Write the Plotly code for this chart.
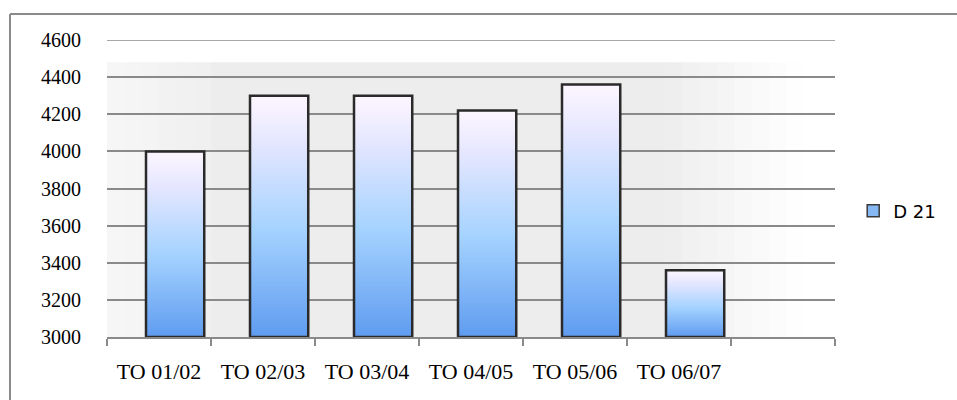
import plotly.graph_objects as go

categories = ["TO 01/02", "TO 02/03", "TO 03/04", "TO 04/05", "TO 05/06", "TO 06/07"]
values = [4000, 4300, 4300, 4220, 4360, 3360]
series_name = "D 21"
y_ticks = [3000, 3200, 3400, 3600, 3800, 4000, 4200, 4400, 4600]
n_slots = 7
base = 3000

bar_w = 0.56
bar_off = -0.125

grad = [[0, "#5f9cf0"], [0.45, "#a6d3ff"], [0.8, "#e4e6ff"], [1, "#fdf6ff"]]
serif = "'Liberation Serif', 'Times New Roman', 'DejaVu Serif', serif"

fig = go.Figure()

for i, (c, v) in enumerate(zip(categories, values)):
    x0 = i + bar_off
    x1 = x0 + bar_w
    fig.add_trace(go.Scatter(
        x=[x0, x1, x1, x0, x0],
        y=[base, base, v, v, base],
        fill="toself",
        mode="lines",
        line=dict(color="#2a2a2a", width=2.5),
        fillgradient=dict(type="vertical", colorscale=grad),
        showlegend=False,
        hovertemplate=f"{c}: {v}<extra></extra>",
    ))

# legend-only entry
fig.add_trace(go.Bar(x=[None], y=[None], name=series_name,
                     marker=dict(color="#86b8f4", line=dict(color="#3a3a3a", width=1.5))))

# soft shadow backdrop (strips under gridlines)
shapes = []
n_strips = 40
x_start, x_end = -0.5, len(categories) - 0.5 + 0.7
for k in range(n_strips):
    t = k / (n_strips - 1)
    if t < 0.15:
        g = 246 - int((t / 0.15) * 8)
    elif t < 0.8:
        g = 237
    else:
        g = 237 + int(((t - 0.8) / 0.2) * 18)
    col = f"rgb({g},{g},{g})"
    xa = x_start + (x_end - x_start) * k / n_strips
    xb = x_start + (x_end - x_start) * (k + 1) / n_strips
    shapes.append(dict(type="rect", xref="x", yref="y", x0=xa, x1=xb + 0.01, y0=3000, y1=4480,
                       fillcolor=col, line=dict(width=0), layer="below"))

shapes += [
    dict(type="line", xref="paper", yref="paper",
         x0=(10 - 107) / 728, x1=(960 - 107) / 728, y0=(337 - 14) / 297, y1=(337 - 14) / 297,
         line=dict(color="#8a8a8a", width=2)),
    dict(type="line", xref="paper", yref="paper",
         x0=(10 - 107) / 728, x1=(10 - 107) / 728, y0=(337 - 14) / 297, y1=(337 - 405) / 297,
         line=dict(color="#8a8a8a", width=2)),
    dict(type="line", xref="paper", yref="y", x0=0, x1=1, y0=4600, y1=4600,
         line=dict(color="#8a8a8a", width=1.5), layer="above"),
]

fig.update_layout(
    width=957, height=400,
    margin=dict(l=107, r=122, t=40, b=63, autoexpand=False),
    paper_bgcolor="white",
    plot_bgcolor="white",
    showlegend=True,
    legend=dict(x=1.025, y=0.424, xanchor="left", yanchor="middle",
                font=dict(family="DejaVu Sans", size=18, color="black"),
                bgcolor="rgba(0,0,0,0)", itemwidth=30),
    xaxis=dict(
        range=[-0.5, n_slots - 0.5],
        tickmode="array",
        tickvals=list(range(len(categories))),
        ticktext=categories,
        ticks="outside", ticklen=14, tickcolor="rgba(0,0,0,0)",
        showgrid=False, zeroline=False,
        showline=True, linecolor="#8a8a8a", linewidth=2,
        tickfont=dict(family=serif, size=22, color="black"),
        minor=dict(tickmode="array", tickvals=[k - 0.5 for k in range(n_slots + 1)],
                   ticks="outside", ticklen=7, tickcolor="#8a8a8a", tickwidth=1.5, showgrid=False),
        fixedrange=True,
    ),
    yaxis=dict(
        range=[3000, 4600],
        tickmode="array",
        tickvals=y_ticks,
        ticktext=[str(t) for t in y_ticks],
        showgrid=True, gridcolor="#8a8a8a", gridwidth=1.5,
        zeroline=False, showline=False,
        ticks="outside", ticklen=21, tickcolor="rgba(0,0,0,0)",
        tickfont=dict(family=serif, size=20, color="black"),
        fixedrange=True,
    ),
    shapes=shapes,
)

fig.write_html("out.html")
